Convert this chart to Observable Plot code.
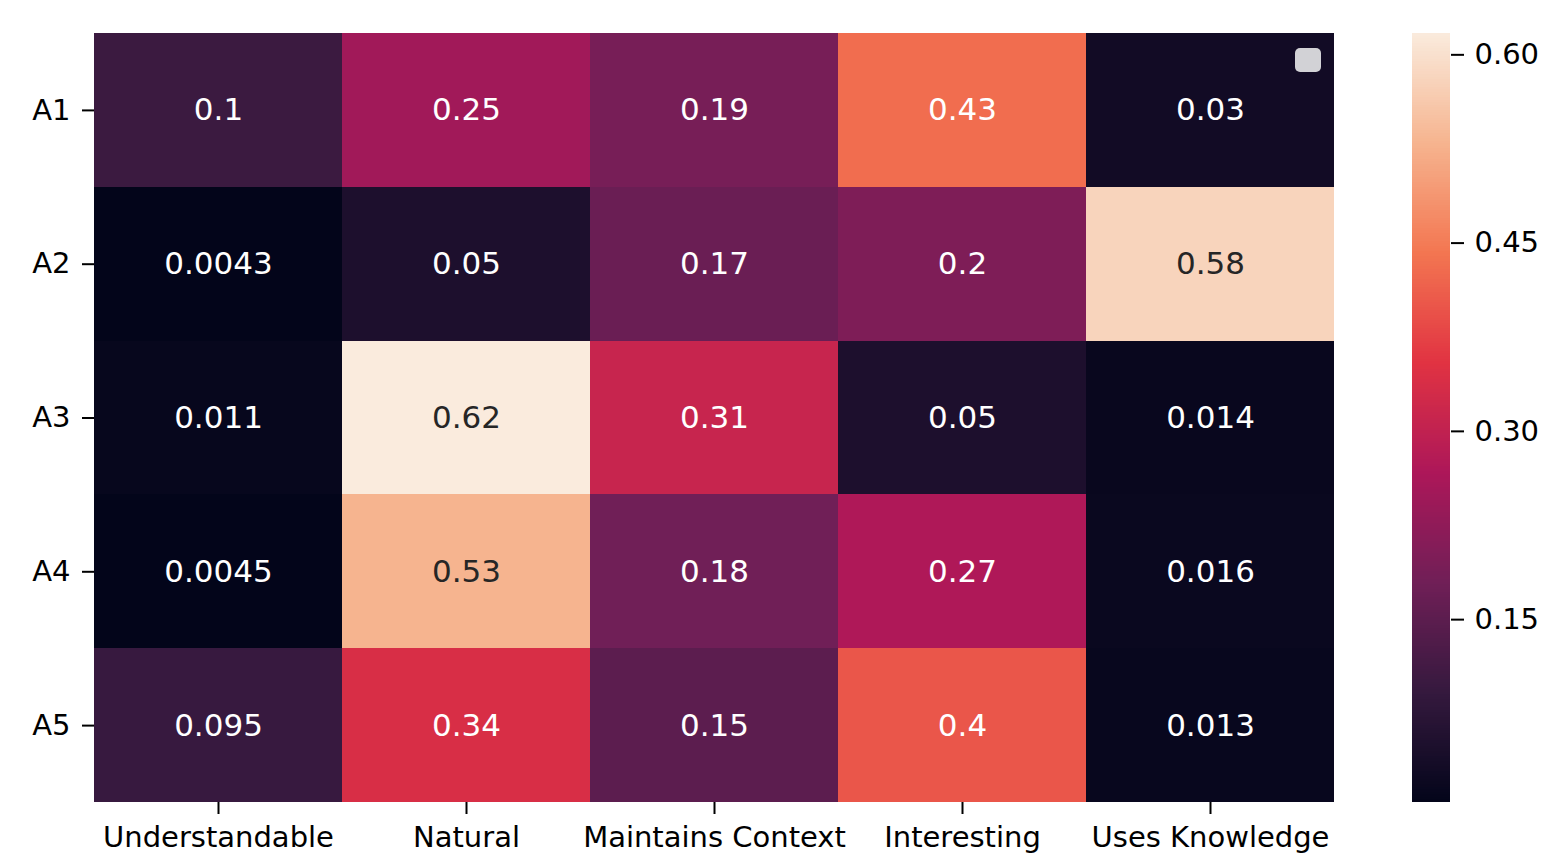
<!DOCTYPE html>
<html>
<head>
<meta charset="utf-8">
<script src="https://cdn.jsdelivr.net/npm/d3@7"></script>
<script src="https://cdn.jsdelivr.net/npm/@observablehq/plot@0.6"></script>
<style>
  body { margin: 0; background: white; }
  #wrap { position: relative; width: 1557px; height: 861px; font-family: "DejaVu Sans", sans-serif; }
  #main, #cbar { position: absolute; top: 0; }
  #main { left: 0; }
  #cbar { left: 1412px; }
  #legendbox { position: absolute; left: 1295px; top: 48px; width: 26px; height: 24px; border-radius: 5px; background: #d2d2d6; }
  g[aria-label$="axis tick"] { stroke: #000; stroke-width: 2px; }
</style>
</head>
<body>
<div id="wrap">
  <div id="main"></div>
  <div id="cbar"></div>
  <div id="legendbox"></div>
</div>
<script>
const rows = ["A1", "A2", "A3", "A4", "A5"];
const cols = ["Understandable", "Natural", "Maintains Context", "Interesting", "Uses Knowledge"];
const A1 = [0.1, 0.25, 0.19, 0.43, 0.03];
const A2 = [0.0043, 0.05, 0.17, 0.2, 0.58];
const A3 = [0.011, 0.617, 0.31, 0.05, 0.014];
const A4 = [0.0045, 0.53, 0.18, 0.27, 0.016];
const A5 = [0.095, 0.34, 0.15, 0.4, 0.013];
const colorbarTicks = [0.15, 0.30, 0.45, 0.60];
const rocketStops = ["#03051a", "#35193e", "#701f57", "#ad1759", "#e13342", "#f37651", "#f6b48f", "#faebdd"];

const matrix = [A1, A2, A3, A4, A5];
const data = [];
rows.forEach((r, i) => cols.forEach((c, j) => data.push({row: r, col: c, v: matrix[i][j]})));

const vals = data.map(d => d.v);
const vmin = d3.min(vals), vmax = d3.max(vals);
const colorScale = {
  type: "linear",
  domain: d3.range(rocketStops.length).map(i => vmin + i * (vmax - vmin) / (rocketStops.length - 1)),
  range: rocketStops,
  interpolate: "rgb"
};
const fmt = d3.format(".2~g");
const font = {fontFamily: "DejaVu Sans, sans-serif", fontSize: "29px", background: "transparent", color: "black"};

const main = Plot.plot({
  width: 1557,
  height: 861,
  marginLeft: 94,
  marginRight: 223,
  marginTop: 33,
  marginBottom: 59,
  style: font,
  x: {domain: cols, padding: 0, round: false, label: null, tickSize: 12, tickPadding: 12},
  y: {domain: rows, padding: 0, round: false, label: null, tickSize: 12, tickPadding: 12},
  color: colorScale,
  marks: [
    Plot.cell(data, {x: "col", y: "row", fill: "v", inset: 0, shapeRendering: "crispEdges"}),
    Plot.text(data, {x: "col", y: "row", text: d => fmt(d.v), fill: d => d.v > 0.5 ? "#262626" : "white", fontSize: 31})
  ]
});
document.getElementById("main").appendChild(main);

const nSteps = 300;
const step = (vmax - vmin) / nSteps;
const grad = d3.range(nSteps).map(i => vmin + i * step);
const cbar = Plot.plot({
  width: 145,
  height: 861,
  marginLeft: 0,
  marginRight: 107,
  marginTop: 33,
  marginBottom: 59,
  style: font,
  x: {domain: [0, 1], axis: null},
  y: {domain: [vmin, vmax], axis: "right", ticks: colorbarTicks, tickFormat: d3.format(".2f"), tickSize: 13, tickPadding: 11, label: null},
  color: colorScale,
  marks: [
    Plot.rect(grad, {x1: 0, x2: 1, y1: d => d, y2: d => Math.min(vmax, d + step * 1.5), fill: d => d + step / 2, shapeRendering: "crispEdges"})
  ]
});
document.getElementById("cbar").appendChild(cbar);
</script>
</body>
</html>
